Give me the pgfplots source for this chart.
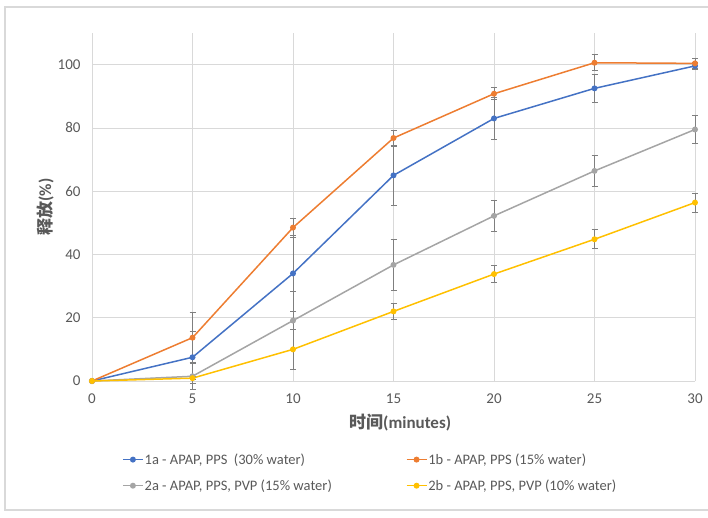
\documentclass[border=0pt]{standalone}
\usepackage{fontspec}
\setmainfont{Carlito}
\newfontfamily\cjk{Noto Sans CJK SC}
\usepackage{pgfplots}
\pgfplotsset{compat=1.18}
\definecolor{sblue}{HTML}{4472C4}
\definecolor{sorange}{HTML}{ED7D31}
\definecolor{sgray}{HTML}{A5A5A5}
\definecolor{syellow}{HTML}{FFC000}
\definecolor{gridgray}{HTML}{D9D9D9}
\definecolor{labelgray}{HTML}{595959}
\definecolor{errgray}{HTML}{7F7F7F}
\definecolor{framegray}{HTML}{D9D9D9}
\pgfplotsset{myerr/.style={
    error bars/y dir=both, error bars/y explicit,
    error bars/error bar style={color=errgray, line width=0.8pt},
    error bars/error mark options={rotate=90, mark size=3pt, color=errgray, line width=0.8pt}}}
\begin{document}
\begin{tikzpicture}[x=1pt,y=1pt]
\useasboundingbox (0,0) rectangle (708,517);
\draw[color=framegray, line width=1.5pt] (708,7) -- (5,7) -- (5,510) -- (708,510);
\begin{axis}[
  at={(92pt,136pt)}, anchor=south west,
  scale only axis, width=603pt, height=348pt,
  xmin=0, xmax=30, ymin=0, ymax=110,
  xtick={0,5,...,30}, ytick={0,20,...,100},
  grid=major, major grid style={color=gridgray, line width=0.8pt},
  axis line style={draw=none}, tick style={draw=none},
  ticklabel style={font=\fontsize{15}{18}\selectfont, text=labelgray},
  yticklabel style={xshift=-8pt},
  xticklabel style={yshift=-9pt},
  /pgf/number format/assume math mode=true,
  clip=false,
  xlabel={\fontsize{17}{20}\selectfont\bfseries{\cjk 时间}(minutes)},
  xlabel style={text=labelgray, at={(axis description cs:0.511,0)}, anchor=center, yshift=-42pt},
  ylabel={\fontsize{17}{20}\selectfont\bfseries{\cjk 释放}(\%)},
  ylabel style={text=labelgray, at={(axis description cs:0,0.5)}, anchor=center, rotate=0, yshift=47pt},
  legend columns=2,
  legend image code/.code={\draw[mark repeat=2,mark phase=2,#1] plot coordinates {(0pt,0pt) (10pt,0pt) (20pt,0pt)};},
  legend style={draw=none, fill=none, at={(axis description cs:0.0497,-0.205)}, anchor=north west,
    font=\fontsize{14.5}{17}\selectfont, text=labelgray, inner sep=0pt, row sep=12pt,
    nodes={inner sep=1pt},
    /tikz/every even column/.append style={column sep=73pt}},
  legend cell align=left,
]
\addplot[color=sblue, line width=1.5pt, mark=*, mark size=2.2pt, mark options={fill=sblue}, myerr] coordinates {
 (0,0) +- (0,0) (5,7.5) +- (0,8.3) (10,34) +- (0,12) (15,65) +- (0,9.5)
 (20,83) +- (0,6.7) (25,92.5) +- (0,4.5) (30,99.6) +- (0,1)};
\addlegendentry{1a - APAP, PPS\ \ (30\% water)}
\addplot[color=sorange, line width=1.5pt, mark=*, mark size=2.2pt, mark options={fill=sorange}, myerr] coordinates {
 (0,0) +- (0,0) (5,13.7) +- (0,8) (10,48.5) +- (0,3) (15,76.8) +- (0,2.5)
 (20,90.8) +- (0,1.9) (25,100.6) +- (0,2.5) (30,100.4) +- (0,1.5)};
\addlegendentry{1b - APAP, PPS (15\% water)}
\addplot[color=sgray, line width=1.5pt, mark=*, mark size=2.2pt, mark options={fill=sgray}, myerr] coordinates {
 (0,0) +- (0,0) (5,1.5) +- (0,4.3) (10,19.1) +- (0,9.2) (15,36.7) +- (0,8)
 (20,52.2) +- (0,5) (25,66.4) +- (0,5) (30,79.5) +- (0,4.4)};
\addlegendentry{2a - APAP, PPS, PVP (15\% water)}
\addplot[color=syellow, line width=1.5pt, mark=*, mark size=2.2pt, mark options={fill=syellow}, myerr] coordinates {
 (0,0) +- (0,0) (5,0.9) +- (0,0.5) (10,10) +- (0,6.3) (15,22) +- (0,2.5)
 (20,33.8) +- (0,2.7) (25,44.8) +- (0,3) (30,56.4) +- (0,3)};
\addlegendentry{2b - APAP, PPS, PVP (10\% water)}
\end{axis}
\end{tikzpicture}
\end{document}
